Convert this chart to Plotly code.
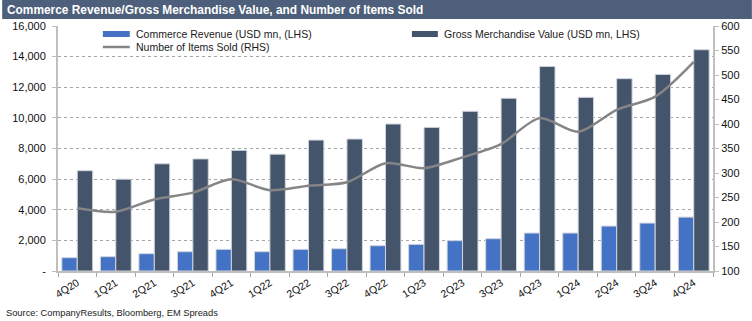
import plotly.graph_objects as go

quarters = ["4Q20", "1Q21", "2Q21", "3Q21", "4Q21", "1Q22", "2Q22", "3Q22", "4Q22",
            "1Q23", "2Q23", "3Q23", "4Q23", "1Q24", "2Q24", "3Q24", "4Q24"]
commerce_revenue = [870, 935, 1130, 1260, 1415, 1260, 1415, 1455, 1650,
                    1740, 1980, 2110, 2480, 2480, 2935, 3130, 3520]
gmv = [6550, 6000, 7000, 7320, 7880, 7630, 8550, 8620, 9600,
       9380, 10430, 11280, 13360, 11340, 12560, 12840, 14450]
items_sold = [228, 221, 246, 260, 287, 265, 274, 281, 320,
              310, 332, 359, 412, 384, 429, 456, 527]

left_ticks = [0, 2000, 4000, 6000, 8000, 10000, 12000, 14000, 16000]
left_labels = ["-", "2,000", "4,000", "6,000", "8,000", "10,000", "12,000", "14,000", "16,000"]
right_ticks = [100, 150, 200, 250, 300, 350, 400, 450, 500, 550, 600]

title_text = "Commerce Revenue/Gross Merchandise Value, and Number of Items Sold"
source_text = "Source: CompanyResults, Bloomberg, EM Spreads"
name_cr = "Commerce Revenue (USD mn, (LHS)"
name_gmv = "Gross Merchandise Value (USD mn, LHS)"
name_items = "Number of Items Sold (RHS)"

C_CR = "#4472c4"
C_GMV = "#44546a"
C_LINE = "#858585"
FONT = "Liberation Sans, Arial, sans-serif"

W, H = 752, 321
ML, MR, MT, MB = 56, 39, 26, 50
PW, PH = W - ML - MR, H - MT - MB

def px_x(p):
    return (p - ML) / PW

def px_y(p):
    return (H - MB - p) / PH

fig = go.Figure()
fig.add_trace(go.Bar(x=quarters, y=commerce_revenue, name=name_cr,
                     marker=dict(color=C_CR, line=dict(color="#d0d5de", width=1)),
                     showlegend=False))
fig.add_trace(go.Bar(x=quarters, y=gmv, name=name_gmv,
                     marker=dict(color=C_GMV, line=dict(color="#d0d5de", width=1)),
                     showlegend=False))
fig.add_trace(go.Scatter(x=quarters, y=items_sold, name=name_items, yaxis="y2",
                         mode="lines", line=dict(color=C_LINE, width=2.5, shape="spline", smoothing=0.8),
                         showlegend=False))

shapes = [
    dict(type="rect", xref="paper", yref="paper", x0=px_x(0), x1=px_x(W), y0=px_y(19), y1=px_y(0),
         fillcolor="#4d5f7a", line=dict(width=0), layer="above"),
    dict(type="rect", xref="paper", yref="paper", x0=px_x(101), x1=px_x(128), y0=px_y(37), y1=px_y(31),
         fillcolor=C_CR, line=dict(width=0)),
    dict(type="rect", xref="paper", yref="paper", x0=px_x(411), x1=px_x(437), y0=px_y(37), y1=px_y(31),
         fillcolor=C_GMV, line=dict(width=0)),
    dict(type="line", xref="paper", yref="paper", x0=px_x(101), x1=px_x(128), y0=px_y(47), y1=px_y(47),
         line=dict(color=C_LINE, width=2.5)),
]

annotations = [
    dict(text="<b>" + title_text + "</b>", xref="paper", yref="paper", x=px_x(3), y=px_y(10),
         xanchor="left", yanchor="middle", showarrow=False,
         font=dict(family=FONT, size=11.9, color="white")),
    dict(text=name_cr, xref="paper", yref="paper", x=px_x(132), y=px_y(34),
         xanchor="left", yanchor="middle", showarrow=False, font=dict(family=FONT, size=10.5, color="#1a1a1a")),
    dict(text=name_gmv, xref="paper", yref="paper", x=px_x(441), y=px_y(34),
         xanchor="left", yanchor="middle", showarrow=False, font=dict(family=FONT, size=10.5, color="#1a1a1a")),
    dict(text=name_items, xref="paper", yref="paper", x=px_x(132), y=px_y(47),
         xanchor="left", yanchor="middle", showarrow=False, font=dict(family=FONT, size=10.5, color="#1a1a1a")),
    dict(text=source_text, xref="paper", yref="paper", x=px_x(2), y=px_y(313),
         xanchor="left", yanchor="middle", showarrow=False, font=dict(family=FONT, size=9.3, color="#1a1a1a")),
]

fig.update_layout(
    width=W, height=H,
    margin=dict(l=ML, r=MR, t=MT, b=MB, pad=0),
    paper_bgcolor="white", plot_bgcolor="white",
    barmode="group", bargap=0.2, bargroupgap=0,
    font=dict(family=FONT, size=11, color="#111111"),
    shapes=shapes, annotations=annotations,
    xaxis=dict(type="category", tickangle=-32, tickson="boundaries", ticks="outside", ticklen=4,
               tickcolor="#a6a6a6", showline=True, linecolor="#bfbfbf", linewidth=1.5,
               showgrid=False, tickfont=dict(size=10.5, color="#111111")),
    yaxis=dict(range=[0, 16000], tickvals=left_ticks, ticktext=left_labels,
               ticks="outside", ticklen=4, tickcolor="#bfbfbf",
               showline=True, linecolor="#bfbfbf", linewidth=2,
               showgrid=True, gridcolor="#a6a6a6", griddash="dot", gridwidth=1,
               zeroline=False, tickfont=dict(size=11, color="#111111"), ticklabelstandoff=4),
    yaxis2=dict(range=[100, 600], tickvals=right_ticks, overlaying="y", side="right",
                ticks="outside", ticklen=4, tickcolor="#bfbfbf",
                showline=True, linecolor="#bfbfbf", linewidth=2,
                showgrid=False, zeroline=False, tickfont=dict(size=11, color="#111111")),
)

fig.write_html("out.html")
